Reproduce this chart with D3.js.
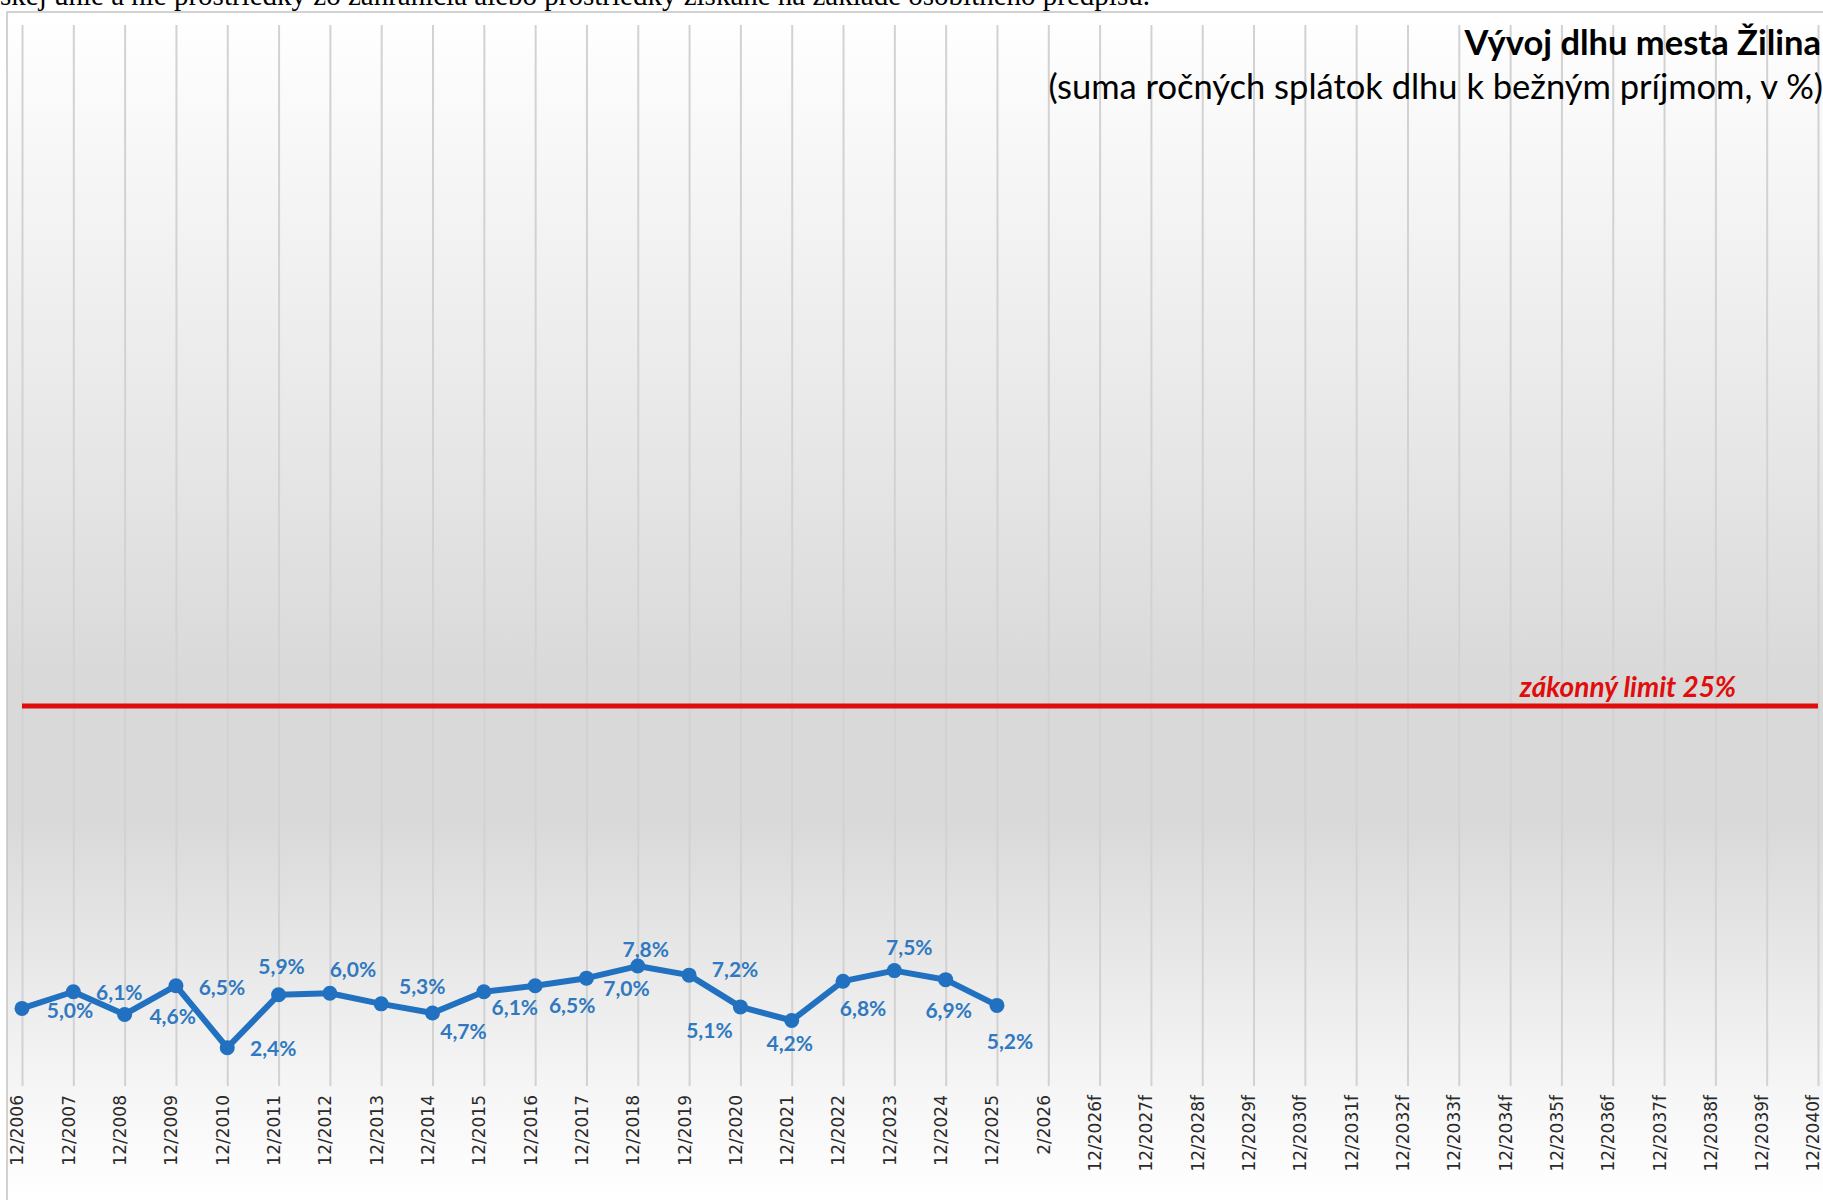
<!DOCTYPE html>
<html>
<head>
<meta charset="utf-8">
<script src="https://cdnjs.cloudflare.com/ajax/libs/d3/7.8.5/d3.min.js"></script>
<style>
    body { margin: 0; background: #fff; }
    svg { display: block; }
</style>
</head>
<body>
<div id="chart"></div>
<script>
// categories (x axis)
const categories = [
    '12/2006', '12/2007', '12/2008', '12/2009', '12/2010', '12/2011', '12/2012',
    '12/2013', '12/2014', '12/2015', '12/2016', '12/2017', '12/2018', '12/2019',
    '12/2020', '12/2021', '12/2022', '12/2023', '12/2024', '12/2025', '2/2026',
    '12/2026f', '12/2027f', '12/2028f', '12/2029f', '12/2030f', '12/2031f',
    '12/2032f', '12/2033f', '12/2034f', '12/2035f', '12/2036f', '12/2037f',
    '12/2038f', '12/2039f', '12/2040f'
]
// debt service ratio, % (only actual years have values)
const debtRatio = [
    5.0, 6.1, 4.6, 6.5, 2.4, 5.9, 6.0, 5.3, 4.7, 6.1,
    6.5, 7.0, 7.8, 7.2, 5.1, 4.2, 6.8, 7.5, 6.9, 5.2
]
const legalLimit = 25
const yDomain = [0, 70]

// where each value label sits relative to its point [dx, dy]
const labelOffsets = [
    [48, 2], [46, 1], [48, 2], [46, 2], [46, 1], [3, -28], [23, -24],
    [41, -17], [31, 19], [31, 16], [37, 20], [40, 10], [8, -16], [46, -5],
    [-31, 24], [-2, 23], [20, 27], [15, -23], [3, 31], [13, 36]
]

const width = 1823
const height = 1200
const blue = '#2171c0'
const labelBlue = '#3079c0'
const red = '#e00d0d'

const fmt = (v) => d3.format('.1f')(v).replace('.', ',') + '%'

const svg = d3.select('#chart')
    .append('svg')
        .attr('width', width)
        .attr('height', height)

// background gradient of the chart area
const grad = svg.append('defs')
    .append('linearGradient')
        .attr('id', 'bg')
        .attr('x1', 0).attr('y1', 0)
        .attr('x2', 0).attr('y2', 1)
;[[0, '#ffffff'], [0.18, '#f3f3f3'], [0.38, '#e6e6e6'], [0.56, '#d9d9d9'],
  [0.68, '#d9d9d9'], [0.9, '#f5f5f5'], [1, '#ffffff']].forEach(([o, c]) => {
    grad.append('stop').attr('offset', o).attr('stop-color', c)
})

svg.append('rect')
    .attr('x', 7)
    .attr('y', 12)
    .attr('width', width - 7)
    .attr('height', height - 12)
    .attr('fill', 'url(#bg)')

// frame
svg.append('path')
    .attr('d', `M7,${height} V12 H${width}`)
    .attr('fill', 'none')
    .attr('stroke', '#c4c4c4')
    .attr('stroke-width', 1.5)

// cut-off text above the chart (cut in the reference too)
svg.append('text')
    .attr('x', 0)
    .attr('y', 5)
    .style('font-family', '"Liberation Serif", serif')
    .style('font-size', '29px')
    .style('fill', '#000')
    .text('skej únie a nie prostriedky zo zahraničia alebo prostriedky získané na základe osobitného predpisu.')

// scales
const xScale = d3.scalePoint()
    .domain(categories)
    .range([22, 1818])

const yScale = d3.scaleLinear()
    .domain(yDomain)
    .range([1084, 25.6])

// x axis with full-height gridlines
const axisY = 1086
const xAxis = d3.axisBottom(xScale)
    .tickSizeInner(-(axisY - 25))
    .tickSizeOuter(0)

const axis = svg.append('g')
    .attr('class', 'x axis')
    .attr('transform', 'translate(0,' + axisY + ')')
    .call(xAxis)

axis.select('.domain').remove()
axis.selectAll('line')
    .attr('stroke', '#d2d2d2')
    .attr('stroke-width', 2)
axis.selectAll('text')
    .attr('transform', 'rotate(-90)')
    .attr('x', -9)
    .attr('y', -5)
    .attr('dy', '0.35em')
    .style('text-anchor', 'end')
    .style('font-family', '"DejaVu Sans", sans-serif')
    .style('font-size', '17px')
    .style('fill', '#2a2a2a')

// legal limit
svg.append('line')
    .attr('x1', xScale(categories[0]))
    .attr('x2', xScale(categories[categories.length - 1]))
    .attr('y1', yScale(legalLimit))
    .attr('y2', yScale(legalLimit))
    .attr('stroke', red)
    .attr('stroke-width', 5)

svg.append('text')
    .attr('x', 1628)
    .attr('y', yScale(legalLimit) - 9)
    .attr('text-anchor', 'middle')
    .style('font-family', 'Lato, sans-serif')
    .style('font-weight', 'bold')
    .style('font-style', 'italic')
    .style('font-size', '28px')
    .style('fill', red)
    .text(`zákonný limit ${legalLimit}%`)

// debt series
const valueline = d3.line()
    .x((d, i) => xScale(categories[i]))
    .y((d) => yScale(d))

svg.append('path')
    .attr('d', valueline(debtRatio))
    .attr('fill', 'none')
    .attr('stroke', blue)
    .attr('stroke-width', 6)
    .attr('stroke-linejoin', 'round')

svg.append('g')
    .selectAll('circle')
    .data(debtRatio)
    .join('circle')
        .attr('cx', (d, i) => xScale(categories[i]))
        .attr('cy', (d) => yScale(d))
        .attr('r', 7.5)
        .attr('fill', blue)

svg.append('g')
    .selectAll('text')
    .data(debtRatio)
    .join('text')
        .attr('x', (d, i) => xScale(categories[i]) + labelOffsets[i][0])
        .attr('y', (d, i) => yScale(d) + labelOffsets[i][1])
        .attr('dy', '0.35em')
        .attr('text-anchor', 'middle')
        .style('font-family', 'Lato, sans-serif')
        .style('font-weight', 'bold')
        .style('font-size', '21px')
        .style('fill', labelBlue)
        .text(fmt)

// titles
svg.append('text')
    .attr('x', 1821)
    .attr('y', 55)
    .attr('text-anchor', 'end')
    .style('font-family', 'Lato, sans-serif')
    .style('font-weight', 'bold')
    .style('font-size', '34.5px')
    .style('fill', '#000')
    .text('Vývoj dlhu mesta Žilina')

svg.append('text')
    .attr('x', 1823)
    .attr('y', 99)
    .attr('text-anchor', 'end')
    .style('font-family', 'Lato, sans-serif')
    .style('font-size', '34.5px')
    .style('fill', '#000')
    .text('(suma ročných splátok dlhu k bežným príjmom, v %)')
</script>
</body>
</html>
